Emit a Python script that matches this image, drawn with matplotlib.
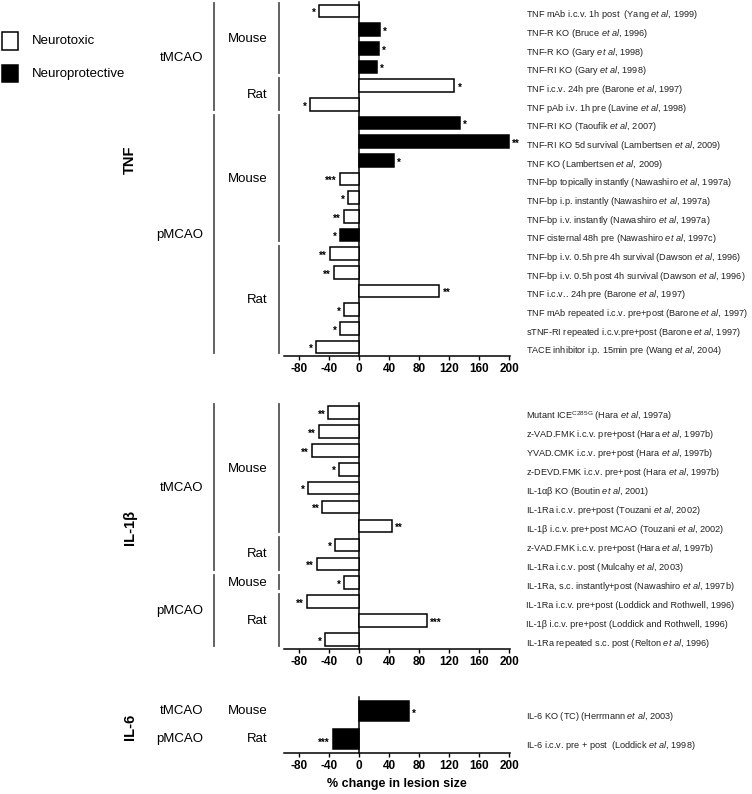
import numpy as np
import matplotlib
matplotlib.use('Agg')
from matplotlib import pyplot as plt
from matplotlib.patches import Rectangle
from matplotlib.transforms import blended_transform_factory

plt.rcParams['font.family'] = ['Liberation Sans', 'DejaVu Sans']
plt.rcParams['mathtext.fontset'] = 'custom'
plt.rcParams['mathtext.rm'] = 'Liberation Sans'
plt.rcParams['mathtext.it'] = 'Liberation Sans:italic'
plt.rcParams['mathtext.bf'] = 'Liberation Sans:bold'
plt.rcParams['axes.unicode_minus'] = False

EA = r'$\mathit{et\ al}$'

# TNF panel
tnf_labels = [
    'TNF mAb i.c.v. 1h post  (Yang ' + EA + ', 1999)',
    'TNF-R KO (Bruce ' + EA + ', 1996)',
    'TNF-R KO (Gary ' + EA + ', 1998)',
    'TNF-RI KO (Gary ' + EA + ', 1998)',
    'TNF i.c.v. 24h pre (Barone ' + EA + ', 1997)',
    'TNF pAb i.v. 1h pre (Lavine ' + EA + ', 1998)',
    'TNF-RI KO (Taoufik ' + EA + ', 2007)',
    'TNF-RI KO 5d survival (Lambertsen ' + EA + ', 2009)',
    'TNF KO (Lambertsen ' + EA + ', 2009)',
    'TNF-bp topically instantly (Nawashiro ' + EA + ', 1997a)',
    'TNF-bp i.p. instantly (Nawashiro ' + EA + ', 1997a)',
    'TNF-bp i.v. instantly (Nawashiro ' + EA + ', 1997a)',
    'TNF cisternal 48h pre (Nawashiro ' + EA + ', 1997c)',
    'TNF-bp i.v. 0.5h pre 4h survival (Dawson ' + EA + ', 1996)',
    'TNF-bp i.v. 0.5h post 4h survival (Dawson ' + EA + ', 1996)',
    'TNF i.c.v.. 24h pre (Barone ' + EA + ', 1997)',
    'TNF mAb repeated i.c.v. pre+post (Barone ' + EA + ', 1997)',
    'sTNF-RI repeated i.c.v.pre+post (Barone ' + EA + ', 1997)',
    'TACE inhibitor i.p. 15min pre (Wang ' + EA + ', 2004)',
]
tnf_values = [-53, 28, 27, 24, 127, -66, 134, 200, 47, -26, -15, -20, -26,
              -39, -34, 107, -20, -26, -58]
tnf_protective = [0, 1, 1, 1, 0, 0, 1, 1, 1, 0, 0, 0, 1, 0, 0, 0, 0, 0, 0]
tnf_stars = ['*', '*', '*', '*', '*', '*', '*', '**', '*', '***', '*', '**', '*',
             '**', '**', '**', '*', '*', '*']
tnf_conditions = [('tMCAO', 0, 5), ('pMCAO', 6, 18)]
tnf_species = [('Mouse', 0, 3), ('Rat', 4, 5), ('Mouse', 6, 12), ('Rat', 13, 18)]

# IL-1beta panel
il1_labels = [
    'Mutant ICE$^{\\mathrm{C285G}}$ (Hara ' + EA + ', 1997a)',
    'z-VAD.FMK i.c.v. pre+post (Hara ' + EA + ', 1997b)',
    'YVAD.CMK i.c.v. pre+post (Hara ' + EA + ', 1997b)',
    'z-DEVD.FMK i.c.v. pre+post (Hara ' + EA + ', 1997b)',
    'IL-1αβ KO (Boutin ' + EA + ', 2001)',
    'IL-1Ra i.c.v. pre+post (Touzani ' + EA + ', 2002)',
    'IL-1β i.c.v. pre+post MCAO (Touzani ' + EA + ', 2002)',
    'z-VAD.FMK i.c.v. pre+post (Hara ' + EA + ', 1997b)',
    'IL-1Ra i.c.v. post (Mulcahy ' + EA + ', 2003)',
    'IL-1Ra, s.c. instantly+post (Nawashiro ' + EA + ', 1997b)',
    'IL-1Ra i.c.v. pre+post (Loddick and Rothwell, 1996)',
    'IL-1β i.c.v. pre+post (Loddick and Rothwell, 1996)',
    'IL-1Ra repeated s.c. post (Relton ' + EA + ', 1996)',
]
il1_values = [-41, -54, -63, -27, -68, -49, 44, -32, -56, -20, -70, 90, -45]
il1_protective = [0] * 13
il1_stars = ['**', '**', '**', '*', '*', '**', '**', '*', '**', '*', '**', '***', '*']
il1_conditions = [('tMCAO', 0, 8), ('pMCAO', 9, 12)]
il1_species = [('Mouse', 0, 6), ('Rat', 7, 8), ('Mouse', 9, 9), ('Rat', 10, 12)]

# IL-6 panel
il6_labels = [
    'IL-6 KO (TC) (Herrmann ' + EA + ', 2003)',
    'IL-6 i.c.v. pre + post  (Loddick ' + EA + ', 1998)',
]
il6_values = [67, -35]
il6_protective = [1, 1]
il6_stars = ['*', '***']
il6_conditions = [('tMCAO', 0, 0), ('pMCAO', 1, 1)]
il6_species = [('Mouse', 0, 0), ('Rat', 1, 1)]

xticks = [-80, -40, 0, 40, 80, 120, 160, 200]

W, H = 752, 794
fig = plt.figure(figsize=(W / 100, H / 100), dpi=100)


def fx(px):
    return px / W


def fy(py):
    return 1 - py / H


def panel(top, bottom, title, title_y, labels, values, prot, stars, conds, species,
          bar_h=0.68, lines=True, xlabel=False):
    n = len(values)
    ax = fig.add_axes([fx(284), fy(bottom), fx(510) - fx(284), (bottom - top) / H])
    y = -np.arange(n)
    colors = ['black' if p else 'white' for p in prot]
    ax.barh(y, values, height=bar_h, color=colors, edgecolor='black', linewidth=1.1, zorder=3)
    ax.set_xlim(-100, 201)
    ax.set_ylim(-(n - 1) - 0.48, 0.48)
    ax.spines['left'].set_position(('data', 0))
    ax.spines['right'].set_visible(False)
    ax.spines['top'].set_visible(False)
    ax.spines['left'].set_linewidth(1.1)
    ax.spines['bottom'].set_linewidth(1.1)
    ax.set_yticks([])
    ax.set_xticks(xticks)
    ax.set_xticklabels([str(t) for t in xticks], fontweight='bold', fontsize=8.5)
    ax.tick_params(axis='x', length=3, width=1, pad=2)
    ax.set_facecolor('none')
    for yi, v, s, lab in zip(y, values, stars, labels):
        if v >= 0:
            ax.text(v + 4, yi - 0.12, s, ha='left', va='center', fontsize=7, fontweight='bold')
        else:
            ax.text(v - 4, yi - 0.12, s, ha='right', va='center', fontsize=7, fontweight='bold')
        ax.text(222, yi - 0.2, lab, ha='left', va='center', fontsize=6.6,
                color='#222222', clip_on=False)
    tr = blended_transform_factory(fig.transFigure, ax.transData)
    for name, a, b in conds:
        ax.text(fx(203), -(a + b) / 2, name, transform=tr, ha='right', va='center', fontsize=9.5)
        if lines:
            ax.plot([fx(214), fx(214)], [-a + 0.42, -b - 0.3], transform=tr,
                    color='#555555', lw=1.3, clip_on=False)
    for name, a, b in species:
        ax.text(fx(268), -(a + b) / 2, name, transform=tr, ha='right', va='center', fontsize=9.5)
        if lines:
            ax.plot([fx(279), fx(279)], [-a + 0.42, -b - 0.3], transform=tr,
                    color='#555555', lw=1.3, clip_on=False)
    fig.text(fx(130), fy(title_y), title, rotation=90, ha='center', va='center',
             fontsize=10.5, fontweight='bold')
    if xlabel:
        ax.set_xlabel('% change in lesion size', fontweight='bold', fontsize=9, labelpad=4)
    return ax


panel(2, 356, 'TNF', 160, tnf_labels, tnf_values, tnf_protective, tnf_stars,
      tnf_conditions, tnf_species)
panel(403, 649, 'IL-1β', 527, il1_labels, il1_values, il1_protective, il1_stars,
      il1_conditions, il1_species)
panel(697, 753, 'IL-6', 727, il6_labels, il6_values, il6_protective, il6_stars,
      il6_conditions, il6_species, bar_h=0.71, lines=False, xlabel=True)

# legend
fig.patches.append(Rectangle((fx(2), fy(50)), fx(16), 18 / H, transform=fig.transFigure,
                             facecolor='white', edgecolor='black', lw=1.1))
fig.patches.append(Rectangle((fx(2), fy(82)), fx(16), 17 / H, transform=fig.transFigure,
                             facecolor='black', edgecolor='black', lw=1.1))
fig.text(fx(32), fy(41), 'Neurotoxic', ha='left', va='center', fontsize=9.5)
fig.text(fx(32), fy(74), 'Neuroprotective', ha='left', va='center', fontsize=9.5)

fig.savefig('out.png', dpi=100, facecolor='white')
